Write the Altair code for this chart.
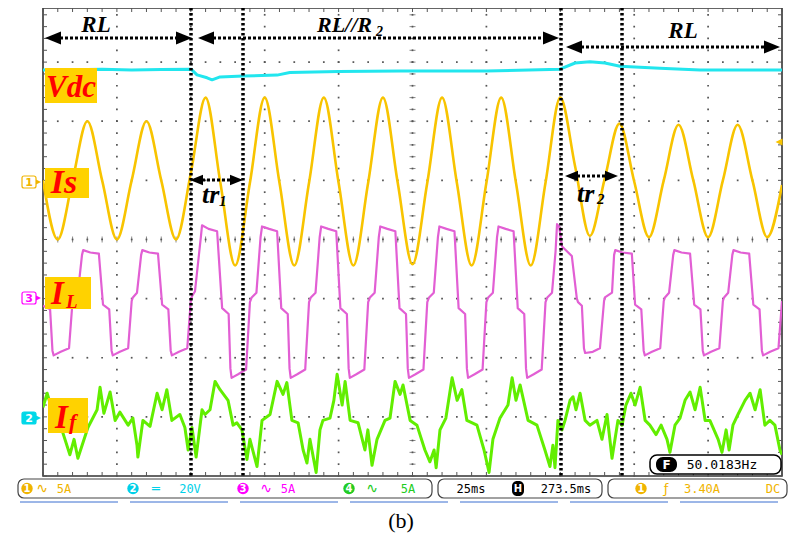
import altair as alt
import pandas as pd

# ---------------- values ----------------
# time in ms (25 ms/div, 10 div); currents in A (5 A/div); DC-link voltage in V (20 V/div)
is_t = [0, 5, 10, 15, 20, 25, 30, 35, 40, 45,
        50, 55, 60, 65, 70, 75, 80, 85, 90, 95,
        100, 105, 110, 115, 120, 125, 130, 135, 140, 145,
        150, 155, 160, 165, 170, 175, 180, 185, 190, 195,
        200, 205, 210, 215, 220, 225, 230, 235, 240, 245, 250]
is_a = [0.0, -5.0, 0.0, 5.0, 0.0, -5.0, 0.0, 5.0, 0.0, -5.0,
        0.6, 7.0, -0.2, -7.2, -0.2, 7.0, -0.2, -7.2, -0.2, 7.0,
        -0.2, -7.2, -0.2, 7.0, -0.2, -7.1, -0.2, 7.0, -0.2, -7.2,
        -0.2, 7.0, -0.2, -7.2, -0.2, 7.0, 1.2, -4.7, 0.1, 4.8,
        -0.1, -4.8, 0.0, 4.7, 0.0, -4.8, 0.0, 4.7, 0.0, -4.8, -0.4]

il_t = [0.0, 2.4, 3.2, 3.6, 6.0, 8.8, 10.0, 10.4, 11.8, 13.2, 13.6, 16.0, 18.9,
        20.3, 22.4, 23.2, 23.6, 26.0, 28.8, 30.0, 30.4, 31.8, 33.2, 33.6, 36.0, 38.9,
        40.3, 42.4, 43.2, 43.6, 46.0, 48.8, 50.0, 50.4, 51.4, 53.4, 53.8, 56.0, 58.9,
        60.6, 62.8, 63.4, 63.8, 66.0, 68.7, 70.0, 70.6, 72.2, 73.6, 74.1, 76.5, 79.2,
        80.6, 82.8, 83.4, 83.8, 86.0, 88.7, 90.0, 90.6, 92.2, 93.6, 94.1, 96.5, 99.2,
        100.6, 102.8, 103.4, 103.8, 106.0, 108.7, 110.0, 110.6, 112.2, 113.6, 114.1, 116.5, 119.2,
        120.6, 122.8, 123.4, 123.8, 126.0, 128.7, 130.0, 130.6, 132.2, 133.6, 134.1, 136.5, 139.2,
        140.6, 142.8, 143.4, 143.8, 146.0, 148.7, 150.0, 150.6, 152.2, 153.6, 154.1, 156.5, 159.2,
        160.6, 162.8, 163.4, 163.8, 166.0, 168.7, 170.0, 170.6, 172.2, 173.4, 173.9, 174.6, 175.6, 178.9,
        180.6, 181.0, 182.3, 183.0, 183.4, 186.0, 188.4, 189.8, 190.1, 192.5, 193.2, 193.6, 196.0, 199.2,
        200.3, 202.4, 203.2, 203.6, 206.0, 208.8, 210.0, 210.4, 211.8, 213.2, 213.6, 216.0, 218.9,
        220.3, 222.4, 223.2, 223.6, 226.0, 228.8, 230.0, 230.4, 231.8, 233.2, 233.6, 236.0, 238.9,
        240.3, 242.4, 243.2, 243.6, 246.0, 248.8, 250.0]
il_a = [-0.6, -0.9, -4.4, -4.8, -4.5, -4.2, -0.2, 0.1, 0.5, 3.7, 4.1, 3.9, 3.8,
        -0.5, -0.9, -4.4, -4.8, -4.5, -4.2, -0.2, 0.1, 0.5, 3.7, 4.1, 3.9, 3.8,
        -0.5, -0.9, -4.4, -4.8, -4.5, -4.2, -0.2, 0.2, 0.6, 5.2, 6.2, 5.9, 5.7,
        -0.8, -1.3, -5.9, -6.7, -6.4, -6.0, -0.3, 0.1, 0.5, 5.2, 6.1, 5.9, 5.7,
        -0.8, -1.3, -5.9, -6.7, -6.4, -6.0, -0.3, 0.1, 0.5, 5.2, 6.1, 5.9, 5.7,
        -0.8, -1.3, -5.9, -6.7, -6.4, -6.0, -0.3, 0.1, 0.5, 5.2, 6.1, 5.9, 5.7,
        -0.8, -1.3, -5.9, -6.7, -6.4, -6.0, -0.3, 0.1, 0.5, 5.2, 6.1, 5.9, 5.7,
        -0.8, -1.3, -5.9, -6.7, -6.4, -6.0, -0.3, 0.1, 0.5, 5.2, 6.1, 5.9, 5.7,
        -0.8, -1.3, -5.9, -6.7, -6.4, -6.0, -0.3, 0.1, 0.5, 4.0, 6.3, 6.1, 4.4, 3.6,
        0.0, -0.3, -0.6, -4.2, -4.6, -4.5, -4.2, -0.2, 0.1, 0.5, 3.7, 4.1, 3.9, 3.8,
        -0.5, -0.9, -4.4, -4.8, -4.5, -4.2, -0.2, 0.1, 0.5, 3.7, 4.1, 3.9, 3.8,
        -0.5, -0.9, -4.4, -4.8, -4.5, -4.2, -0.2, 0.1, 0.5, 3.7, 4.1, 3.9, 3.8,
        -0.5, -0.9, -4.4, -4.8, -4.5, -4.2, -0.2]

if_t = [0.0, 1.4, 4.1, 6.4, 9.1, 10.5, 11.8, 15.2, 18.3, 19.3,
        20.6, 22.7, 24.4, 26.0, 28.8, 30.4, 31.8, 32.1, 33.8, 36.2,
        38.6, 40.3, 41.9, 43.6, 46.3, 48.0, 49.1, 50.4, 51.8, 53.8,
        54.8, 56.5, 58.2, 59.9, 62.6, 64.3, 65.6, 67.3, 69.0, 70.0,
        72.4, 74.1, 76.8, 79.2, 81.2, 82.5, 84.2, 86.3, 88.0, 89.3,
        90.3, 92.4, 93.7, 94.7, 97.1, 98.4, 99.5, 101.2, 102.2, 103.9,
        106.6, 108.9, 109.9, 111.3, 113.0, 115.7, 117.4, 119.1, 120.8, 121.8,
        124.2, 126.5, 129.2, 130.9, 132.3, 133.0, 134.3, 136.3, 138.4, 140.1,
        141.7, 143.4, 146.8, 149.2, 150.9, 152.2, 154.6, 157.3, 158.7, 160.0,
        161.4, 164.1, 167.1, 169.8, 171.5, 172.5, 173.2, 174.2, 175.6, 176.6,
        178.3, 179.3, 180.3, 181.7, 183.4, 185.0, 187.4, 189.1, 190.8, 192.5,
        194.5, 195.9, 197.2, 198.9, 200.3, 202.0, 203.7, 205.3, 207.4, 209.1,
        211.1, 212.1, 213.8, 215.5, 217.2, 218.9, 220.6, 222.3, 224.0, 225.6,
        228.4, 229.7, 231.1, 232.1, 233.4, 235.1, 237.5, 239.2, 240.9, 242.6,
        244.2, 245.9, 247.6, 249.3, 250.0]
if_a = [0.8, 2.0, -0.3, -1.1, -3.2, -1.9, -3.5, -0.9, 0.6, 2.5,
        0.3, 2.1, -0.3, 0.4, -0.7, -0.1, -2.4, -3.4, -0.3, -0.8,
        2.0, 0.6, 2.3, -0.3, 0.2, -0.9, -2.8, -0.9, -3.4, 0.6,
        0.2, 0.6, 3.0, 2.3, 1.4, -0.7, -0.5, -1.1, -3.6, -1.9,
        -4.2, -0.3, 0.2, 3.0, 1.9, 2.9, -0.3, -0.5, -2.8, -3.9,
        -1.9, -4.7, -1.1, -0.3, -0.1, 1.4, 3.6, 1.0, 3.0, -0.3,
        -0.5, -2.8, -1.1, -4.1, -1.9, -0.3, -0.1, 3.0, 1.9, 2.7,
        -0.3, -0.7, -2.8, -3.8, -2.8, -4.3, -1.1, -0.1, 3.3, 1.4,
        2.3, -0.3, -0.7, -2.8, -4.7, -1.9, -0.1, 1.0, 3.3, 1.4,
        2.7, -0.3, -0.7, -2.8, -4.2, -2.4, -4.3, -0.3, -1.1, -0.3,
        1.4, 1.7, 0.6, 2.0, -0.3, -0.7, -0.3, -1.9, 0.2, -3.5,
        -0.3, -0.7, 1.0, 2.0, 1.0, 2.5, -0.3, -0.7, -1.5, -0.7,
        -1.9, -3.0, -0.7, -0.1, 1.4, 2.1, 0.6, 2.5, -0.3, -0.3,
        -1.9, -3.0, -1.1, -2.8, -0.7, 0.2, 1.4, 2.0, 0.6, 2.3,
        -0.7, -0.3, -0.7, -2.8, -3.2]

vdc_t = [0, 10, 20, 30, 40, 50.1, 52.1, 55.5, 57.2, 59.9, 67.7, 79.2,
         83.5, 100, 120.8, 150, 174.9, 180.0, 185.0, 190.1, 195.2, 208.7, 222.3, 250]
vdc_v = [117.3, 117.4, 117.6, 117.3, 117.5, 117.6, 115.7, 114.7, 114.0, 115.0, 115.3, 115.6,
         116.5, 116.8, 117.0, 117.0, 117.6, 119.7, 120.1, 119.7, 118.6, 117.9, 117.3, 117.3]

# channel settings: units per division and zero position (div from screen centre)
CHANNELS = {
    "Vdc": (20.0, -3.0, "#22e6ee"),
    "Is": (5.0, 1.0, "#f8c400"),
    "IL": (5.0, -1.0, "#e25fd4"),
    "If": (5.0, -3.0, "#62ee00"),
}

# ---------------- layout ----------------
W, H = 739, 468
X0, Y0 = 43, 8
XS = alt.Scale(domain=[0, 250], nice=False, zero=False)
YS = alt.Scale(domain=[-4.0, 3.915], nice=False, zero=False)


def X(f="t"):
    return alt.X(f"{f}:Q", scale=XS, axis=None)


def Y(f="d"):
    return alt.Y(f"{f}:Q", scale=YS, axis=None)


def trace(t, v, name, width, interp):
    per, zero, color = CHANNELS[name]
    assert len(t) == len(v)
    df = pd.DataFrame({"t": t, "d": [zero + x / per for x in v]})
    return alt.Chart(df).mark_line(color=color, strokeWidth=width, strokeJoin="round",
                                   interpolate=interp, clip=True).encode(x=X(), y=Y())


ONE = pd.DataFrame({"k": [0]})


def pos(px, py):
    return {"x": alt.value(px - X0), "y": alt.value(py - Y0)}


def text(s, px, py, size, color="black", font="DejaVu Sans Mono", weight="normal",
         style="normal", align="center", baseline="middle"):
    return alt.Chart(ONE).mark_text(text=s, fontSize=size, color=color, font=font,
                                    fontWeight=weight, fontStyle=style, align=align,
                                    baseline=baseline).encode(**pos(px, py))


def rect(x1, y1, x2, y2, fill, stroke=None, r=0, sw=1.0):
    kw = dict(fill=fill, cornerRadius=r)
    if stroke:
        kw.update(stroke=stroke, strokeWidth=sw)
    return alt.Chart(ONE).mark_rect(**kw).encode(
        x=alt.value(x1 - X0), x2=alt.value(x2 - X0),
        y=alt.value(y1 - Y0), y2=alt.value(y2 - Y0))


def symbol(shape, px, py, size, color):
    return alt.Chart(ONE).mark_point(shape=shape, filled=True, size=size, color=color,
                                     opacity=1, strokeWidth=0).encode(**pos(px, py))


def hrule(x1, x2, py, color="black", w=3, dash=None):
    kw = dict(color=color, strokeWidth=w)
    if dash:
        kw["strokeDash"] = dash
    return alt.Chart(ONE).mark_rule(**kw).encode(
        x=alt.value(x1 - X0), x2=alt.value(x2 - X0), y=alt.value(py - Y0))


def vrule(px, y1, y2, color="black", w=3, dash=None):
    kw = dict(color=color, strokeWidth=w)
    if dash:
        kw["strokeDash"] = dash
    return alt.Chart(ONE).mark_rule(**kw).encode(
        x=alt.value(px - X0), y=alt.value(y1 - Y0), y2=alt.value(y2 - Y0))


LEFT = "M-1,0L1,-0.8L1,0.8Z"
RIGHT = "M1,0L-1,-0.8L-1,0.8Z"


def arrow(x1, x2, py, head=16):
    size = head * head
    return [hrule(x1 + head - 1, x2 - head + 1, py, w=3, dash=[3, 2]),
            symbol(LEFT, x1 + head / 2, py, size, "black"),
            symbol(RIGHT, x2 - head / 2, py, size, "black")]


# ---------------- oscilloscope graticule ----------------
minor_t = [5 * i for i in range(51)]
minor_d = [round(-4 + 0.2 * i, 2) for i in range(40)]
major_t = [25 * i for i in range(1, 10)]
major_d = [-3, -2, -1, 0, 1, 2, 3]
dots = pd.DataFrame([(t, d) for t in major_t for d in minor_d] +
                    [(t, d) for d in major_d for t in minor_t], columns=["t", "d"])
GRID = "#555555"
layers = [
    alt.Chart(dots).mark_square(size=3, color=GRID, opacity=1).encode(x=X(), y=Y()),
    alt.Chart(pd.DataFrame({"d": minor_d})).mark_rule(color=GRID, strokeWidth=1).encode(
        y=Y(), x=alt.value(0), x2=alt.value(4)),
    alt.Chart(pd.DataFrame({"d": minor_d})).mark_rule(color=GRID, strokeWidth=1).encode(
        y=Y(), x=alt.value(W - 4), x2=alt.value(W)),
    alt.Chart(pd.DataFrame({"t": minor_t})).mark_rule(color=GRID, strokeWidth=1).encode(
        x=X(), y=alt.value(H - 4), y2=alt.value(H)),
    alt.Chart(pd.DataFrame({"t": minor_t})).mark_rule(color=GRID, strokeWidth=1).encode(
        x=X(), y=alt.value(0), y2=alt.value(4)),
    alt.Chart(pd.DataFrame({"t": [125] * len(minor_d), "d": minor_d})).mark_tick(
        orient="horizontal", size=6, thickness=1, color=GRID).encode(x=X(), y=Y()),
    alt.Chart(pd.DataFrame({"t": minor_t, "d": [0] * len(minor_t)})).mark_tick(
        orient="vertical", size=6, thickness=1, color=GRID).encode(x=X(), y=Y()),
]

# ---------------- traces ----------------
layers += [
    trace(vdc_t, vdc_v, "Vdc", 3, "linear"),
    trace(is_t, is_a, "Is", 2.6, "monotone"),
    trace(il_t, il_a, "IL", 2.2, "linear"),
    trace(if_t, if_a, "If", 3.0, "linear"),
]

# ---------------- annotations ----------------
for px in [191, 243, 561, 622]:
    layers.append(vrule(px, 8, 476, w=3.5, dash=[2.5, 2.5]))
layers += arrow(45, 192, 38)
layers += arrow(198, 559, 38)
layers += arrow(566, 780, 47)
layers += arrow(190, 243, 180, head=13)
layers += arrow(565, 618, 176, head=13)

SERIF = "Liberation Serif"
layers += [
    text("RL", 96, 32, 23, font=SERIF, weight="bold", style="italic", baseline="alphabetic"),
    text("RL//R", 317, 32, 22, font=SERIF, weight="bold", style="italic", align="left",
         baseline="alphabetic"),
    text("2", 376, 36, 14, font=SERIF, weight="bold", style="italic", align="left",
         baseline="alphabetic"),
    text("RL", 683, 38, 23, font=SERIF, weight="bold", style="italic", baseline="alphabetic"),
    text("tr", 202, 203, 26, font=SERIF, weight="bold", style="italic", align="left",
         baseline="alphabetic"),
    text("1", 219, 206, 15, font=SERIF, weight="bold", style="italic", align="left",
         baseline="alphabetic"),
    text("tr", 577, 202, 26, font=SERIF, weight="bold", style="italic", align="left",
         baseline="alphabetic"),
    text("2", 597, 204, 15, font=SERIF, weight="bold", style="italic", align="left",
         baseline="alphabetic"),
]

# channel name boxes
GOLD, RED = "#ffd200", "#ff0000"
layers += [
    rect(45, 68, 97, 103, GOLD),
    text("Vdc", 71, 97, 31, RED, SERIF, "bold", "italic", baseline="alphabetic"),
    rect(45, 168, 89, 198, GOLD),
    text("Is", 64, 193, 34, RED, SERIF, "bold", "italic", baseline="alphabetic"),
    rect(45, 277, 91, 309, GOLD),
    text("I", 51, 304, 33, RED, SERIF, "bold", "italic", align="left", baseline="alphabetic"),
    text("L", 66, 308, 19, RED, SERIF, "bold", "italic", align="left", baseline="alphabetic"),
    rect(48, 398, 88, 433, GOLD),
    text("I", 55, 428, 33, RED, SERIF, "bold", "italic", align="left", baseline="alphabetic"),
    text("f", 69, 429, 22, RED, SERIF, "bold", "italic", align="left", baseline="alphabetic"),
]

# channel ground markers on the left, trigger-level marker on the right
for py, col, num, filled in [(182, "#f0b400", "1", False), (298, "#ff00ff", "3", False),
                             (418, "#00d8e8", "2", True)]:
    layers += [
        rect(22, py - 6, 36, py + 6, col if filled else "white", col, 2, 1.2),
        symbol("M-1,-1L1,0L-1,1Z", 38.5, py, 25, col),
        text(num, 29, py + 0.5, 11, "white" if filled else col, "DejaVu Sans", "bold"),
    ]
layers.append(symbol("M-1,0L1,-1L1,1Z", 779, 142, 49, "#f8c400"))

# frequency readout
layers += [
    rect(650, 455, 781, 474, "white", "black", 7, 1.5),
    rect(656, 457, 677, 472, "black", None, 7),
    text("F", 666.5, 465, 12, "white", "DejaVu Sans", "bold"),
    text("50.0183Hz", 722, 465, 13, "black"),
]

# status bar
YB = 488.5
YEL, CYA, MAG, GRN = "#f0b400", "#00d0e8", "#ff00ff", "#22cc22"


def badge(px, col, num, tcol="white"):
    return [alt.Chart(ONE).mark_point(shape="circle", filled=True, size=130, color=col,
                                      opacity=1).encode(**pos(px, YB)),
            text(num, px, YB + 0.5, 10, tcol, "DejaVu Sans", "bold")]


layers += [
    rect(18, 479, 432, 498, "white", "#444444", 6, 1.2),
    rect(438, 479, 602, 498, "white", "#444444", 6, 1.2),
    rect(608, 479, 787, 498, "white", "#444444", 6, 1.2),
]
layers += badge(27, YEL, "1")
layers += [text("∿", 42, YB, 14, YEL, "DejaVu Sans"), text("5A", 64, YB, 12, YEL)]
layers += badge(133, CYA, "2")
layers += [text("═", 156, YB, 13, CYA, "DejaVu Sans"), text("20V", 190, YB, 12, CYA)]
layers += badge(243, MAG, "3")
layers += [text("∿", 266, YB, 14, MAG, "DejaVu Sans"), text("5A", 288, YB, 12, MAG)]
layers += badge(349, GRN, "4")
layers += [text("∿", 372, YB, 14, GRN, "DejaVu Sans"), text("5A", 408, YB, 12, GRN)]
layers += [text("25ms", 471, YB, 12)]
layers += [rect(512, 481, 524, 496, "black", None, 5),
           text("H", 518, YB + 0.5, 10, "white", "DejaVu Sans", "bold")]
layers += [text("273.5ms", 566, YB, 12)]
layers += badge(641, YEL, "1")
layers += [text("ƒ", 666, YB, 13, YEL, "DejaVu Sans"), text("3.40A", 702, YB, 12, YEL),
           text("DC", 773, YB, 12, YEL)]
layers += [hrule(20 + 110 * i, 118 + 110 * i, 502, "#3a6fd0", 1) for i in range(7)]

# caption
layers.append(text("(b)", 401, 521, 22, "black", SERIF))

chart = alt.layer(*layers).properties(
    width=W, height=H,
    autosize=alt.AutoSizeParams(type="none"),
    padding={"left": 35, "top": 0, "right": 13, "bottom": 60},
    background="white",
).configure_view(stroke="#333333", strokeWidth=1.6)

chart.save("out.html", embed_options={"renderer": "svg", "actions": False})
